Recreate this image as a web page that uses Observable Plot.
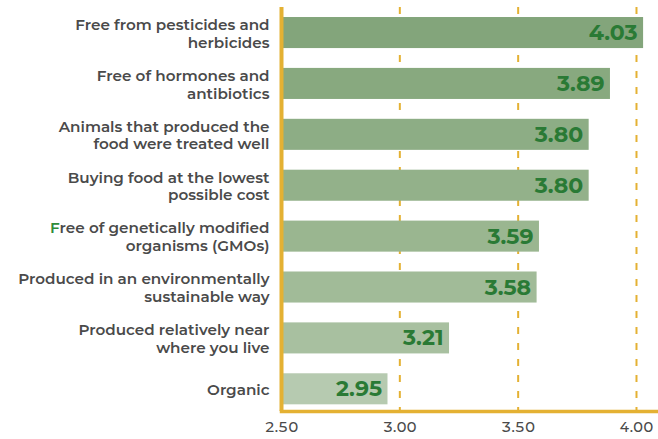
<!DOCTYPE html>
<html>
<head>
<meta charset="utf-8">
<script src="https://cdn.jsdelivr.net/npm/d3@7"></script>
<script src="https://cdn.jsdelivr.net/npm/@observablehq/plot@0.6"></script>
<style>
  html, body { margin: 0; padding: 0; background: #fff; }
  #chart { width: 658px; height: 439px; }
</style>
</head>
<body>
<div id="chart"></div>
<script>
const categories = [
  "Free from pesticides and\nherbicides",
  "Free of hormones and\nantibiotics",
  "Animals that produced the\nfood were treated well",
  "Buying food at the lowest\npossible cost",
  "Free of genetically modified\norganisms (GMOs)",
  "Produced in an environmentally\nsustainable way",
  "Produced relatively near\nwhere you live",
  "Organic"
];
const values = [4.03, 3.89, 3.80, 3.80, 3.59, 3.58, 3.21, 2.95];
const valueLabels = ["4.03", "3.89", "3.80", "3.80", "3.59", "3.58", "3.21", "2.95"];
const barColors = ["#83a57b", "#88a97f", "#8dad85", "#93b18a", "#9ab690", "#a1bb98", "#a8c0a0", "#b6cab0"];
const xTicks = [2.5, 3.0, 3.5, 4.0];
const gridTicks = [3.0, 3.5, 4.0];

const rows = categories.map((c, i) => ({cat: c, value: values[i], label: valueLabels[i], color: barColors[i]}));

const gold = "#e4b133";
const font = "Montserrat, 'Open Sans', sans-serif";

const plot = Plot.plot({
  width: 658,
  height: 439,
  marginLeft: 281,
  marginRight: 0,
  marginTop: 7,
  marginBottom: 28,
  style: {fontFamily: font, background: "#fff"},
  x: {domain: [2.5, 4.093], axis: null},
  y: {domain: categories, axis: null, paddingInner: 0.39, paddingOuter: 0.164, align: 0.6, round: false},
  marks: [
    Plot.ruleX(gridTicks, {stroke: gold, strokeWidth: 2, strokeDasharray: "7,9"}),
    Plot.barX(rows, {y: "cat", x1: 2.5, x2: "value", fill: "color"}),
    Plot.text(rows, {y: "cat", x: "value", text: "label", textAnchor: "end", dx: -6, fill: "#2a7a35", fontSize: 22, fontWeight: 700}),
    Plot.text(rows, {y: "cat", text: "cat", frameAnchor: "left", textAnchor: "end", dx: -12, fill: "#4a4a4a", fontSize: 15.2, fontWeight: 600, lineHeight: 1.17}),
    Plot.ruleX([2.5], {stroke: gold, strokeWidth: 4}),
    Plot.frame({anchor: "bottom", stroke: gold, strokeWidth: 3.5}),
    Plot.axisX(xTicks, {tickSize: 0, tickPadding: 10, tickFormat: d3.format(".2f"), fontSize: 14.5, fontWeight: 500, fill: "#4a4a4a", stroke: null, label: null})
  ]
});

document.getElementById("chart").appendChild(plot);

// The reference shows the first letter of the GMO label in green
d3.select(plot).selectAll("tspan").each(function() {
  const t = d3.select(this);
  const s = t.text();
  if (s.startsWith("Free of genetically")) {
    t.text("");
    t.append("tspan").attr("fill", "#2e8b3a").text("F");
    t.append("tspan").text(s.slice(1));
  }
});
</script>
</body>
</html>
